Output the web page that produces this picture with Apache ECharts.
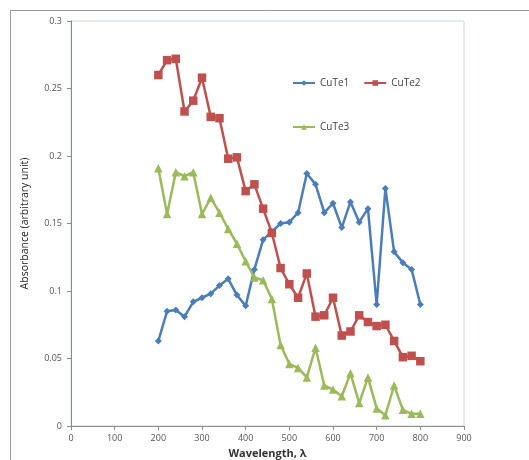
<!DOCTYPE html>
<html>
<head>
<meta charset="utf-8">
<script src="https://cdn.jsdelivr.net/npm/echarts@6/dist/echarts.min.js"></script>
<style>
  html, body { margin: 0; padding: 0; background: #fff; }
  #main { width: 529px; height: 460px; }
</style>
</head>
<body>
<div id="main"></div>
<script>
// wavelength (nm)
var wavelength = [200, 220, 240, 260, 280, 300, 320, 340, 360, 380, 400, 420, 440, 460, 480, 500,
  520, 540, 560, 580, 600, 620, 640, 660, 680, 700, 720, 740, 760, 780, 800];

var cute1 = [0.063, 0.085, 0.086, 0.081, 0.092, 0.095, 0.098, 0.104, 0.109, 0.097, 0.089, 0.116,
  0.138, 0.144, 0.150, 0.151, 0.158, 0.187, 0.179, 0.158, 0.165, 0.147, 0.166, 0.151, 0.161,
  0.090, 0.176, 0.129, 0.121, 0.116, 0.090];

var cute2 = [0.260, 0.271, 0.272, 0.233, 0.241, 0.258, 0.229, 0.228, 0.198, 0.199, 0.174, 0.179,
  0.161, 0.143, 0.117, 0.105, 0.095, 0.113, 0.081, 0.082, 0.095, 0.067, 0.070, 0.082, 0.077,
  0.074, 0.075, 0.063, 0.051, 0.052, 0.048];

var cute3 = [0.191, 0.157, 0.188, 0.185, 0.188, 0.157, 0.169, 0.158, 0.146, 0.135, 0.122, 0.110,
  0.108, 0.094, 0.060, 0.046, 0.043, 0.036, 0.058, 0.030, 0.027, 0.022, 0.039, 0.017, 0.036,
  0.013, 0.008, 0.030, 0.012, 0.009, 0.009];

function pairs(ys) {
  var out = [];
  for (var i = 0; i < wavelength.length; i++) out.push([wavelength[i], ys[i]]);
  return out;
}

var font = 'Open Sans';
var myChart = echarts.init(document.getElementById('main'));
var option = {
  backgroundColor: '#fff',
  animation: false,
  textStyle: { fontFamily: font },
  graphic: [{
    type: 'rect',
    shape: { x: 10.5, y: 10.5, width: 540, height: 470 },
    style: { fill: 'none', stroke: '#9a9a9a', lineWidth: 1 },
    silent: true
  }],
  grid: {
    left: 71, right: 65, top: 21, bottom: 34,
    outerBoundsMode: 'none', containLabel: false,
    show: true, borderColor: '#ccd5e3', borderWidth: 1, backgroundColor: 'transparent'
  },
  legend: [{
    left: 287, top: 73,
    itemWidth: 22, itemHeight: 7, itemGap: 14,
    textStyle: { fontSize: 10, color: '#444', fontFamily: font },
    data: ['CuTe1', 'CuTe2']
  }, {
    left: 287, top: 117,
    itemWidth: 22, itemHeight: 7,
    textStyle: { fontSize: 10, color: '#444', fontFamily: font },
    data: ['CuTe3']
  }],
  xAxis: {
    type: 'value', min: 0, max: 900, interval: 100,
    name: 'Wavelength, λ', nameLocation: 'middle', nameGap: 16,
    nameTextStyle: { fontSize: 11, fontWeight: 'bold', color: '#333', fontFamily: font },
    axisLine: { lineStyle: { color: '#8c8c8c', width: 1 } },
    axisTick: { show: true, length: 4, lineStyle: { color: '#8c8c8c' } },
    axisLabel: { fontSize: 9, color: '#555', margin: 8 },
    splitLine: { show: false }
  },
  yAxis: {
    type: 'value', min: 0, max: 0.3, interval: 0.05,
    name: 'Absorbance (arbitrary unit)', nameLocation: 'middle', nameGap: 40,
    nameTextStyle: { fontSize: 10.5, color: '#222', fontFamily: font },
    axisLine: { show: true, lineStyle: { color: '#8c8c8c', width: 1 } },
    axisTick: { show: true, length: 4, lineStyle: { color: '#8c8c8c' } },
    axisLabel: { fontSize: 9, color: '#555', margin: 9 },
    splitLine: { show: false }
  },
  series: [{
    name: 'CuTe1', type: 'line', data: pairs(cute1),
    symbol: 'diamond', symbolSize: 7,
    lineStyle: { color: '#4a7ebb', width: 2.5 },
    itemStyle: { color: '#4a7ebb' }
  }, {
    name: 'CuTe2', type: 'line', data: pairs(cute2),
    symbol: 'rect', symbolSize: 8.5,
    lineStyle: { color: '#c0504d', width: 2.5 },
    itemStyle: { color: '#c0504d' }
  }, {
    name: 'CuTe3', type: 'line', data: pairs(cute3),
    symbol: 'triangle', symbolSize: 8.5,
    lineStyle: { color: '#9bbb59', width: 2.5 },
    itemStyle: { color: '#9bbb59' }
  }]
};
myChart.setOption(option);
</script>
</body>
</html>
